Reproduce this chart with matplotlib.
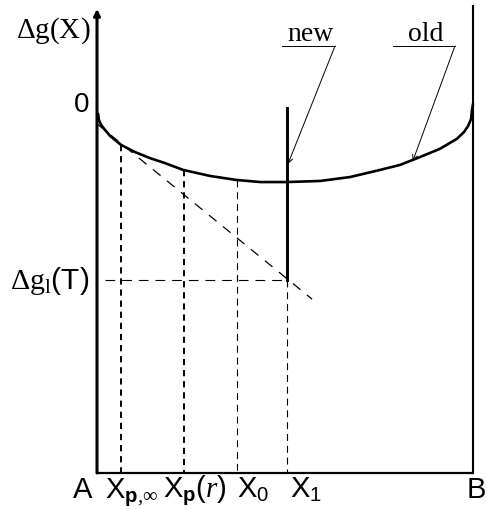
import numpy as np
import matplotlib
matplotlib.use("Agg")
import matplotlib.pyplot as plt

plt.rcParams["mathtext.fontset"] = "custom"
plt.rcParams["mathtext.rm"] = "Liberation Serif"
plt.rcParams["mathtext.it"] = "Liberation Serif:italic"
plt.rcParams["mathtext.sf"] = "Liberation Sans"
plt.rcParams["mathtext.bf"] = "Liberation Sans:bold"
plt.rcParams["lines.scale_dashes"] = False
plt.rcParams["font.family"] = ["Liberation Sans", "DejaVu Sans"]

# Free-energy-of-mixing curve between pure A (x=0) and pure B (x=1)
comp_x = [0.003, 0.005, 0.011, 0.019, 0.035, 0.064, 0.101, 0.141, 0.181,
          0.229, 0.301, 0.370, 0.434, 0.505, 0.593, 0.673, 0.753, 0.806,
          0.859, 0.912, 0.957, 0.976, 0.987, 0.995, 0.997, 1.000]
delta_g = [0.006, -0.011, -0.025, -0.036, -0.056, -0.081, -0.101, -0.118,
           -0.132, -0.151, -0.168, -0.179, -0.185, -0.185, -0.182, -0.171,
           -0.151, -0.137, -0.115, -0.092, -0.064, -0.045, -0.028, -0.008,
           0.014, 0.034]

# Characteristic compositions
x_p_inf = 0.064
x_p_r = 0.231
x_0 = 0.372
x_1 = 0.505
dg1_T = -0.459          # driving-force level
new_top = 0.022         # top of the "new" phase line
tangent_x = [0.0, 0.572]
tangent_y = [-0.022, -0.513]
y_bottom = -1.0
axis_top = 0.30
right_top = 0.308

fig = plt.figure(figsize=(4.87, 5.10), dpi=100)
ax = fig.add_axes([0, 0, 1, 1])
ax.set_xlim(-97 / 376, 390 / 376)
ax.set_ylim((117 - 510) / 357, 117 / 357)
ax.axis("off")

k = "black"
# Frame: left axis with arrow, bottom and right edges
ax.annotate("", xy=(0, axis_top), xytext=(0, y_bottom),
            arrowprops=dict(arrowstyle="-|>", lw=2.2, color=k,
                            mutation_scale=9, shrinkA=0, shrinkB=0))
ax.plot([0, 1], [y_bottom, y_bottom], color=k, lw=1.6, solid_capstyle="butt")
ax.plot([1, 1], [y_bottom, right_top], color=k, lw=1.5)

# Curve
ax.plot(comp_x, delta_g, color=k, lw=1.9, solid_capstyle="round",
        solid_joinstyle="round")

# Vertical drop lines
for xv, lw, dash in [(x_p_inf, 1.4, (4.5, 3.5)), (x_p_r, 1.4, (4.5, 3.5)),
                     (x_0, 0.8, (5, 3.5))]:
    ax.plot([xv, xv], [np.interp(xv, comp_x, delta_g), y_bottom], color=k,
            lw=lw, dashes=dash)
ax.plot([x_1, x_1], [dg1_T, y_bottom], color=k, lw=0.8, dashes=(5, 3.5))

# Horizontal level and tangent
ax.plot([0.021, x_1], [dg1_T, dg1_T], color=k, lw=0.8, dashes=(7, 5))
ax.plot(tangent_x, tangent_y, color=k, lw=0.9, dashes=(7, 6))

# New-phase line
ax.plot([x_1, x_1], [new_top, dg1_T], color=k, lw=2.1)

# Labels with leader arrows
for label, ux0, ux1, head in [("new", 0.492, 0.633, (0.508, -0.134)),
                              ("old", 0.787, 0.952, (0.840, -0.126))]:
    uy = 0.196
    ax.plot([ux0, ux1], [uy, uy], color=k, lw=0.7)
    ax.annotate("", xy=head, xytext=(ux1, uy),
                arrowprops=dict(arrowstyle="->", lw=0.7, color=k,
                                mutation_scale=9, shrinkA=0, shrinkB=0))
    ax.text((ux0 + ux1) / 2 + 0.005, uy + 0.018, label, family="Liberation Serif",
            fontsize=20, ha="center", va="baseline")

ax.text(-0.215, 0.222, r"$\Delta\mathrm{g(X)}$", fontsize=21, ha="left",
        va="baseline")
ax.text(-0.04, 0.034, "0", fontsize=20, ha="center", va="center")
ax.text(-0.232, dg1_T, r"$\Delta\mathrm{g}_{\mathrm{l}}$(T)", fontsize=21.5,
        ha="left", va="center")

# Bottom labels
by = -1.068
ax.text(-0.037, by, "A", fontsize=21, ha="center", va="baseline")
ax.text(0.022, by, r"X$_{\mathbf{p},\!\infty}$", fontsize=21, ha="left",
        va="baseline")
ax.text(0.175, by, r"X$_{\mathbf{p}}$($\mathit{r}$)", fontsize=21, ha="left",
        va="baseline")
ax.text(0.372, by, r"X$_{\mathsf{0}}$", fontsize=21, ha="left", va="baseline")
ax.text(0.513, by, r"X$_{\mathsf{1}}$", fontsize=21, ha="left", va="baseline")
ax.text(1.034, by, "B", fontsize=21, ha="right", va="baseline")

fig.savefig("out.png", dpi=100)
